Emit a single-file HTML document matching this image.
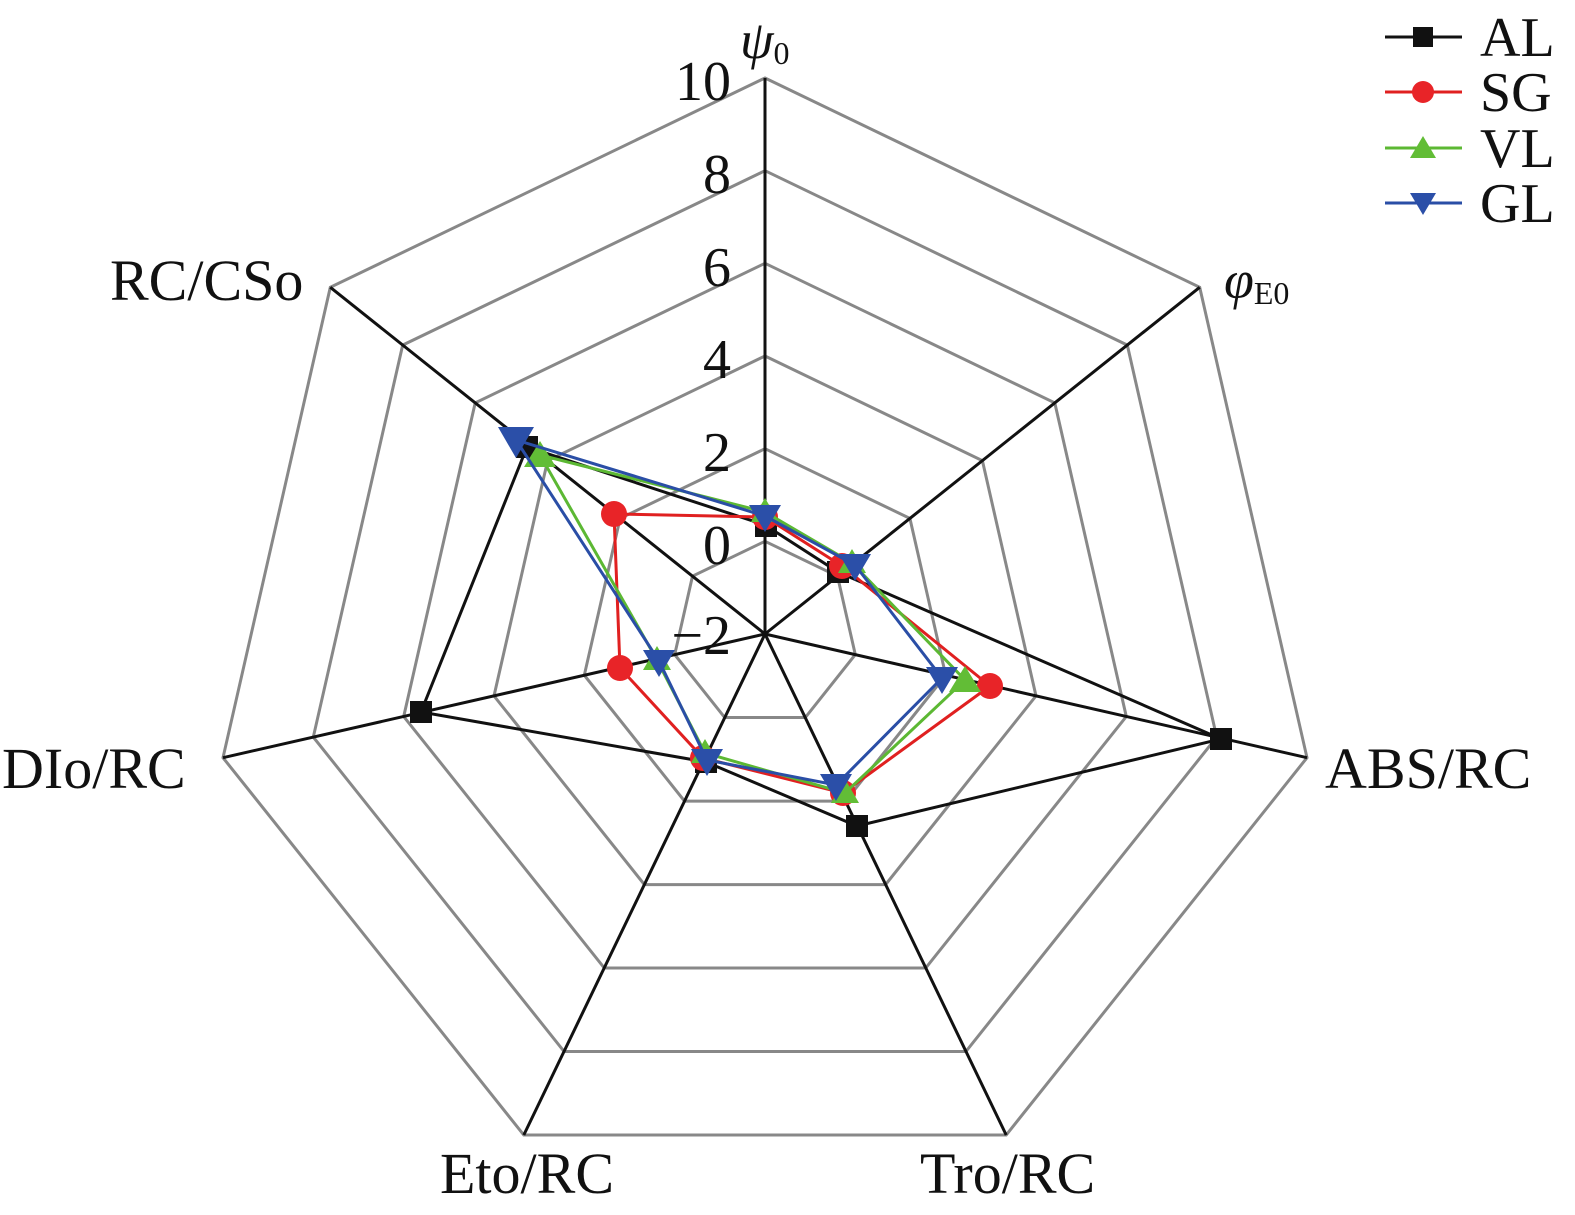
<!DOCTYPE html>
<html><head><meta charset="utf-8"><style>
html,body{margin:0;padding:0;background:#fff}
svg{display:block}
text{font-family:"Liberation Serif",serif;fill:#111}
</style></head><body>
<svg width="1575" height="1215" viewBox="0 0 1575 1215" xmlns="http://www.w3.org/2000/svg">
<g fill="none" stroke="#888" stroke-width="3">
<polygon points="765,78 1199.7,287.3 1307,757.7 1006.2,1135 523.8,1135 223,757.7 330.3,287.3"/>
<polygon points="765,170.7 1127.3,345.1 1216.7,737.1 965.9,1051.5 564.1,1051.5 313.3,737.1 402.7,345.1"/>
<polygon points="765,263.3 1054.8,402.9 1126.3,716.5 925.7,968 604.3,968 403.7,716.5 475.2,402.9"/>
<polygon points="765,356 982.4,460.7 1036,695.9 885.6,884.6 644.4,884.6 494,695.9 547.6,460.7"/>
<polygon points="765,448.7 909.9,518.4 945.7,675.2 845.5,801.1 684.5,801.1 584.3,675.2 620.1,518.4"/>
<polygon points="765,541.3 837.5,576.2 855.3,654.6 805.3,717.5 724.7,717.5 674.7,654.6 692.5,576.2"/>
</g>
<g stroke="#111" stroke-width="3">
<line x1="765" y1="634" x2="765" y2="78"/>
<line x1="765" y1="634" x2="1199.7" y2="287.3"/>
<line x1="765" y1="634" x2="1307" y2="757.7"/>
<line x1="765" y1="634" x2="1006.2" y2="1135"/>
<line x1="765" y1="634" x2="523.8" y2="1135"/>
<line x1="765" y1="634" x2="223" y2="757.7"/>
<line x1="765" y1="634" x2="330.3" y2="287.3"/>
</g>
<g font-size="56" text-anchor="end">
<text x="731" y="100">10</text>
<text x="731" y="193">8</text>
<text x="731" y="286">6</text>
<text x="731" y="378">4</text>
<text x="731" y="471">2</text>
<text x="731" y="564">0</text>
<text x="731" y="654">−2</text>
</g>
<text x="740" y="58" font-size="54" font-style="italic">ψ<tspan font-size="32" font-style="normal" dy="6">0</tspan></text>
<text x="1224" y="298" font-size="54" font-style="italic">φ<tspan font-size="32" font-style="normal" dy="6">E0</tspan></text>
<text x="1325" y="788" font-size="58">ABS/RC</text>
<text x="920" y="1193" font-size="58">Tro/RC</text>
<text x="440" y="1193" font-size="58">Eto/RC</text>
<text x="2" y="788" font-size="58">DIo/RC</text>
<text x="110" y="300" font-size="58">RC/CSo</text>
<polyline fill="none" stroke="#111" stroke-width="3" points="765,525 838,572 1221,739 857,826 706,762 421,712 527,447 765,525"/>
<g fill="#111"><rect x="755" y="515" width="22" height="22"/><rect x="827" y="561" width="22" height="22"/><rect x="1210" y="728" width="22" height="22"/><rect x="846" y="815" width="22" height="22"/><rect x="695" y="751" width="22" height="22"/><rect x="410" y="701" width="22" height="22"/><rect x="516" y="436" width="22" height="22"/></g>
<polyline fill="none" stroke="#e02020" stroke-width="3" points="765,517 842,566 990,686 843,793 703,758 620,668 614,514 765,517"/>
<g fill="#e82428"><circle cx="765" cy="517" r="13"/><circle cx="842" cy="566" r="13"/><circle cx="990" cy="686" r="13"/><circle cx="843" cy="793" r="13"/><circle cx="703" cy="758" r="13"/><circle cx="620" cy="668" r="13"/><circle cx="614" cy="514" r="13"/></g>
<polyline fill="none" stroke="#5cb833" stroke-width="3" points="765,512 852,563 965,680 845,793 705,753 657,660 540,455 765,512"/>
<g fill="#62bd36">
<polygon points="765,498 779,522 751,522"/><polygon points="852,549 866,573 838,573"/><polygon points="965,666 981,692 949,692"/><polygon points="845,779 859,803 831,803"/><polygon points="705,739 719,763 691,763"/><polygon points="657,646 671,670 643,670"/><polygon points="540,441 556,467 524,467"/></g>
<polyline fill="none" stroke="#2a4ea6" stroke-width="3" points="765,516 855,565 942,678 836,785 707,760 659,661 516,440 765,516"/>
<g fill="#2b4fa8">
<polygon points="749,505 781,505 765,532"/><polygon points="839,554 871,554 855,581"/><polygon points="926,667 958,667 942,694"/><polygon points="820,774 852,774 836,801"/><polygon points="691,749 723,749 707,776"/><polygon points="643,650 675,650 659,677"/><polygon points="498,427 534,427 516,458"/></g>
<g stroke-width="3">
<line x1="1385" y1="37" x2="1462" y2="37" stroke="#111"/><rect x="1413" y="27" width="20" height="20" fill="#111"/>
<line x1="1385" y1="92" x2="1462" y2="92" stroke="#e02020"/><circle cx="1423" cy="92" r="11" fill="#e82428"/>
<line x1="1385" y1="148" x2="1462" y2="148" stroke="#5cb833"/><polygon points="1423,136 1436,158 1410,158" fill="#62bd36"/>
<line x1="1385" y1="203" x2="1462" y2="203" stroke="#2a4ea6"/><polygon points="1410,193 1436,193 1423,215" fill="#2b4fa8"/>
</g>
<g font-size="56"><text x="1480" y="56">AL</text><text x="1480" y="111">SG</text><text x="1480" y="167">VL</text><text x="1480" y="222">GL</text></g>
</svg>
</body></html>
